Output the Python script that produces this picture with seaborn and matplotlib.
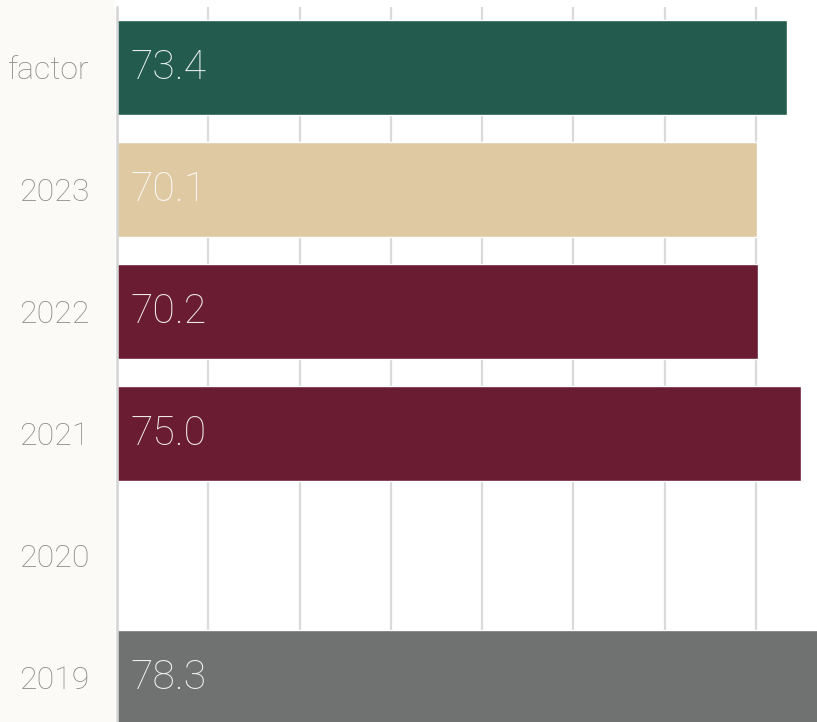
import matplotlib
matplotlib.use("Agg")
import matplotlib.pyplot as plt
import seaborn as sns
import pandas as pd
from matplotlib.patches import Rectangle

categories = ["factor", "2023", "2022", "2021", "2020", "2019"]
values = [73.4, 70.1, 70.2, 75.0, 0.0, 78.3]
bar_colors = ["#235c4e", "#dfc9a3", "#691c32", "#691c32", "#ffffff", "#6f7271"]
xticks = [0, 10, 20, 30, 40, 50, 60, 70, 80]

df = pd.DataFrame({"category": categories, "value": values})

sns.set_theme(style="white")
plt.rcParams["font.family"] = ["Roboto", "DejaVu Sans"]

fig = plt.figure(figsize=(8.17, 7.22), dpi=100)
fig.patch.set_facecolor("white")
# soft cream panel behind the category labels
fig.patches.append(Rectangle((0, 0), 115 / 817, 1, transform=fig.transFigure,
                             facecolor="#fbfaf6", edgecolor="none", zorder=-5))
ax = fig.add_axes([117 / 817, 1 - 6.5 / 722 - 732 / 722, 730 / 817, 732 / 722])
ax.set_facecolor("white")
ax.set_zorder(2)

sns.barplot(data=df, x="value", y="category", hue="category",
            palette=dict(zip(categories, bar_colors)), orient="h",
            width=0.78, legend=False, saturation=1, ax=ax)

ax.set_xlim(0, 80)
ax.set_xticks(xticks)
ax.xaxis.grid(True, color="#dadada", linewidth=1.6)
ax.set_axisbelow(True)
ax.tick_params(axis="x", length=0, labelbottom=False)
ax.tick_params(axis="y", length=0, pad=20, labelsize=23, labelcolor="#8a8a8a")
for lab in ax.get_yticklabels():
    lab.set_fontweight("light")
ax.set_xlabel("")
ax.set_ylabel("")
for side in ["top", "right", "bottom"]:
    ax.spines[side].set_visible(False)
ax.spines["left"].set_color("#d4d4d4")
ax.spines["left"].set_linewidth(1.8)

for i, v in enumerate(values):
    ax.annotate(f"{v:.1f}", xy=(0, i), xytext=(14, 0), textcoords="offset pixels",
                ha="left", va="center", fontsize=29.5, fontweight="light",
                color="white", alpha=0.9)

fig.savefig("out.png", dpi=100)
